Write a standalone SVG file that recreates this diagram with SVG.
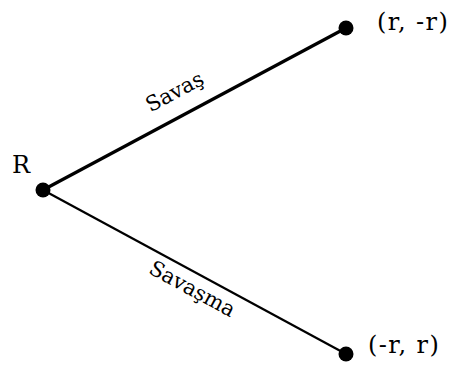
<svg xmlns="http://www.w3.org/2000/svg" width="450" height="369" viewBox="0 0 450 369">
<style>
text{font-family:"DejaVu Serif","Liberation Serif",serif;fill:#000}
.lbl{font-size:24px;letter-spacing:1.4px}
.edge{font-size:21px;text-anchor:middle}
.dot{fill:#000}
</style>
<rect width="450" height="369" fill="#fff"/>
<g id="connectors">
<line x1="43" y1="190" x2="346" y2="28" stroke="#000" stroke-width="3.2"/>
<line x1="43" y1="190" x2="346" y2="354" stroke="#000" stroke-width="2.2"/>
<text class="edge" transform="translate(178,98) rotate(-28)">Savaş</text>
<text class="edge" transform="translate(189,295) rotate(28.4)">Savaşma</text>
</g>
<g id="root"><circle class="dot" cx="43" cy="190" r="7.5"/><text class="lbl" x="12" y="173">R</text></g>
<g id="top"><circle class="dot" cx="346" cy="28" r="7.5"/><text class="lbl" x="377" y="30">(r, -r)</text></g>
<g id="bottom"><circle class="dot" cx="346" cy="354" r="7.5"/><text class="lbl" x="368" y="353">(-r, r)</text></g>
</svg>
